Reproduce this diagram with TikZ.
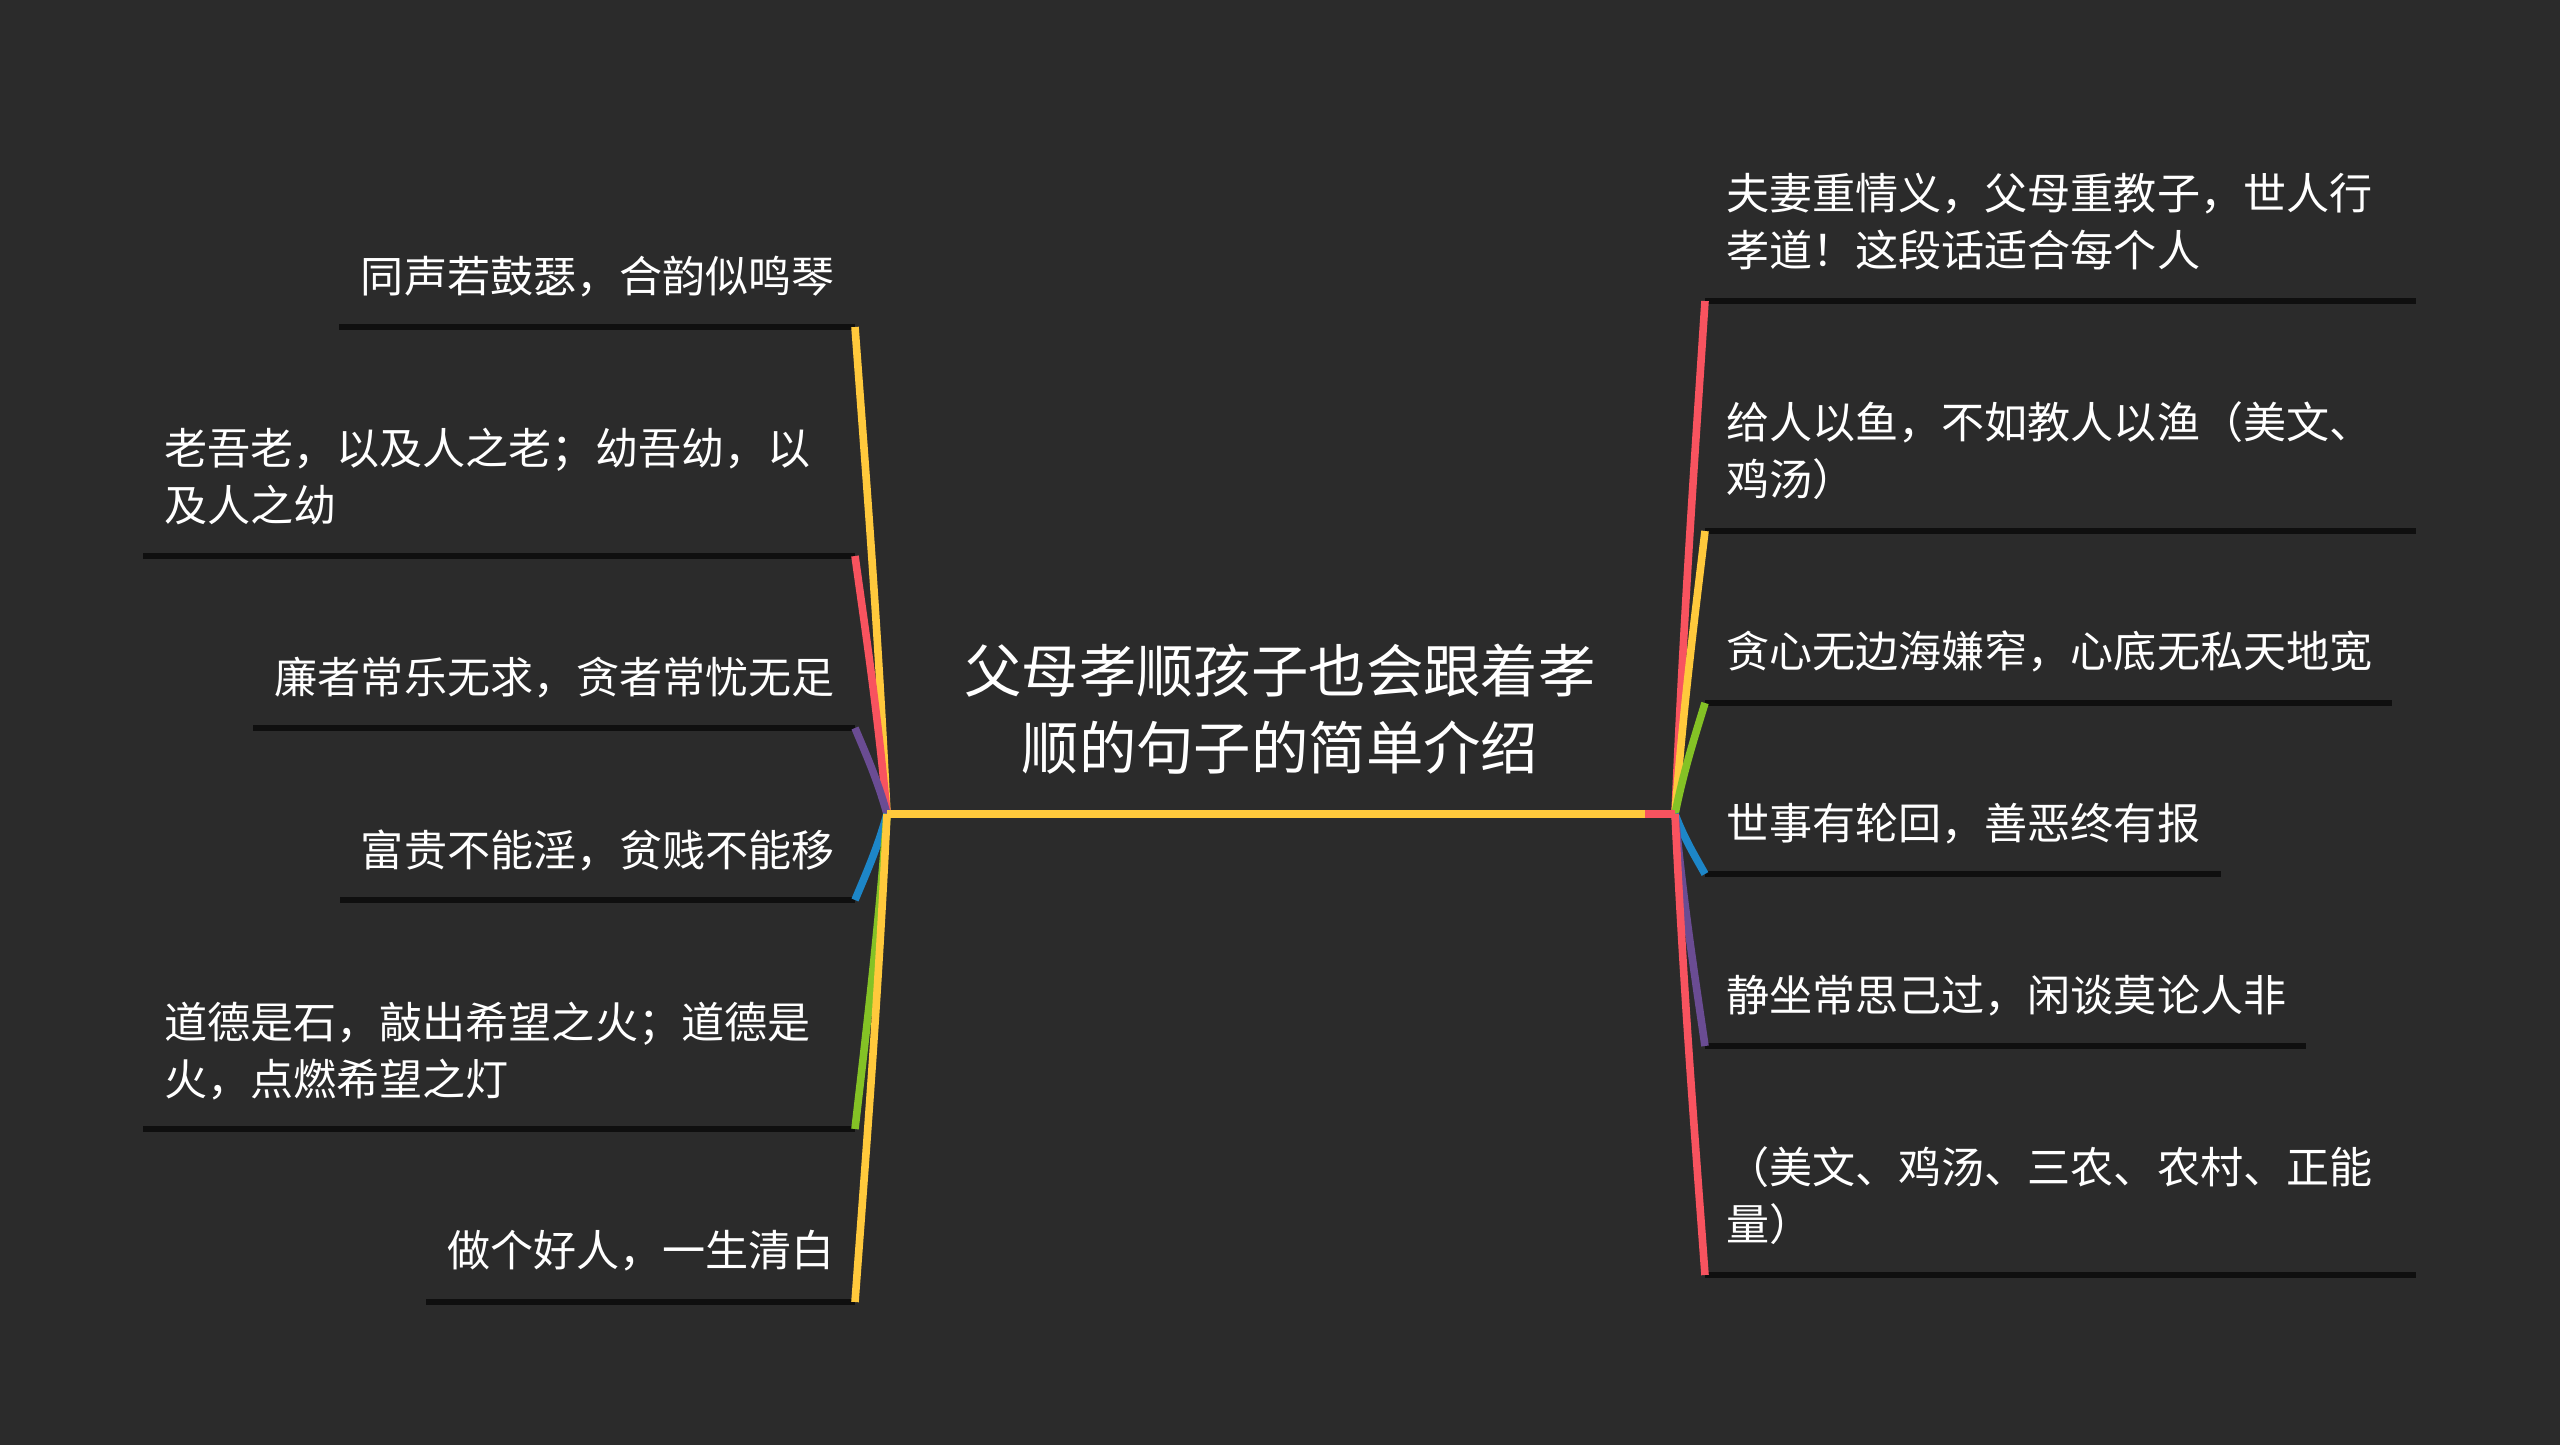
\documentclass[tikz,border=0pt]{standalone}
\usepackage{fontspec}
\setmainfont{Noto Sans CJK SC}
\usetikzlibrary{calc}
\definecolor{bgc}{HTML}{2B2B2B}
\definecolor{cyel}{HTML}{FFC93C}
\definecolor{cred}{HTML}{F8535F}
\definecolor{cgrn}{HTML}{84C225}
\definecolor{cblu}{HTML}{1D86C8}
\definecolor{cpur}{HTML}{6A4C93}
\definecolor{uline}{HTML}{0F0F0F}
\tikzset{
  every node/.style={inner sep=0pt,outer sep=0pt,text=white},
  leaf/.style={font=\fontsize{21.55}{28.5}\selectfont,align=left},
  titlenode/.style={font=\fontsize{28.7}{38.5}\selectfont,align=center},
  under/.style={uline,line width=2.8pt},
  limb/.style={line width=3.8pt},
}
\newcommand{\limbto}[3]{%
  \path let \p1=(#1),\p2=(#2) in
   coordinate (c1) at ({\x1+0.3*(\x2-\x1)},{\y1+0.4*(\y2-\y1)})
   coordinate (c2) at ({\x1+0.64*(\x2-\x1)},{\y1+0.68*(\y2-\y1)});
  \draw[limb,#3] (#1) .. controls (c1) and (c2) .. (#2);}
\begin{document}
\begin{tikzpicture}[x=0.5pt,y=-0.5pt]
\fill[bgc] (0,0) rectangle (2560,1445);
\useasboundingbox (0,0) rectangle (2560,1445);
\coordinate (hl) at (887,814);
\coordinate (hr) at (1675,814);
\coordinate (hm) at (1645,814);
\foreach \n/\y/\x in {a/327/339,b/556/143,c/728/253,d/900/340,e/1129/143,f/1302/426}{
  \coordinate (l\n) at (855,\y);
  \coordinate (l\n o) at (\x,\y);
  \draw[under] (l\n o) -- (l\n);
}
\foreach \n/\y/\x in {a/301/2416,b/531/2416,c/703/2392,d/874/2221,e/1046/2306,f/1275/2416}{
  \coordinate (r\n) at (1705,\y);
  \coordinate (r\n o) at (\x,\y);
  \draw[under] (r\n) -- (r\n o);
}
\limbto{hl}{la}{cyel}
\limbto{hl}{lb}{cred}
\limbto{hl}{lc}{cpur}
\limbto{hl}{ld}{cblu}
\limbto{hl}{le}{cgrn}
\limbto{hl}{lf}{cyel}
\limbto{hr}{ra}{cred}
\limbto{hr}{rb}{cyel}
\limbto{hr}{rc}{cgrn}
\limbto{hr}{rd}{cblu}
\limbto{hr}{re}{cpur}
\limbto{hr}{rf}{cred}
\draw[limb,cred,line width=4pt] (hm) -- (hr);
\draw[limb,cyel,line width=4pt] (hl) -- (hm);
\node[titlenode] (title) at (1280,709) {父母孝顺孩子也会跟着孝\\顺的句子的简单介绍};
\node[leaf,anchor=east] (t1) at (835,277) {同声若鼓瑟，合韵似鸣琴};
\node[leaf,anchor=west] (t2) at (164,477) {老吾老，以及人之老；幼吾幼，以\\及人之幼};
\node[leaf,anchor=east] (t3) at (835,678) {廉者常乐无求，贪者常忧无足};
\node[leaf,anchor=east] (t4) at (835,850) {富贵不能淫，贫贱不能移};
\node[leaf,anchor=west] (t5) at (164,1051) {道德是石，敲出希望之火；道德是\\火，点燃希望之灯};
\node[leaf,anchor=east] (t6) at (835,1251) {做个好人，一生清白};
\node[leaf,anchor=west] (t7) at (1726,222) {夫妻重情义，父母重教子，世人行\\孝道！这段话适合每个人};
\node[leaf,anchor=west] (t8) at (1726,451) {给人以鱼，不如教人以渔（美文、\\鸡汤）};
\node[leaf,anchor=west] (t9) at (1726,651) {贪心无边海嫌窄，心底无私天地宽};
\node[leaf,anchor=west] (t10) at (1726,824) {世事有轮回，善恶终有报};
\node[leaf,anchor=west] (t11) at (1726,996) {静坐常思己过，闲谈莫论人非};
\node[leaf,anchor=west] (t12) at (1726,1196) {（美文、鸡汤、三农、农村、正能\\量）};
\end{tikzpicture}
\end{document}
